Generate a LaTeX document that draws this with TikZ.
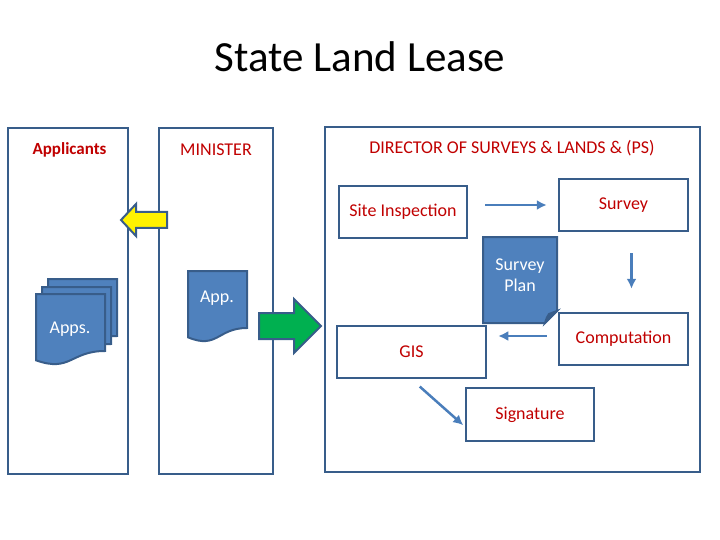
\documentclass[tikz,border=0pt]{standalone}
\usepackage{fontspec}
\setmainfont{Carlito}
\usepackage{tikz}
\usetikzlibrary{calc,arrows.meta}
\definecolor{LineBlue}{RGB}{56,93,138}
\definecolor{DocBlue}{RGB}{79,129,189}
\definecolor{ArrowBlue}{RGB}{74,126,187}
\definecolor{LabelRed}{RGB}{192,0,0}
\definecolor{GoGreen}{RGB}{0,176,80}

\begin{document}
\begin{tikzpicture}[x=1pt,y=-1pt,
  lane/.style={draw=LineBlue, line width=2.5pt},
  stepbox/.style={draw=LineBlue, line width=2.5pt, text=LabelRed, font=\fontsize{18}{21}\selectfont},
  redlabel/.style={text=LabelRed, font=\fontsize{18}{21}\selectfont},
  doc/.style={draw=LineBlue, line width=2pt, fill=DocBlue},
  doctext/.style={text=white, font=\fontsize{18}{21}\selectfont, align=center},
  flow/.style={draw=ArrowBlue, line width=2.5pt, -{Latex[length=10pt,width=10pt]}},
  blockarrow/.style={draw=LineBlue, line width=2pt}]

  \useasboundingbox (0,0) rectangle (720,540);

  \node[font=\fontsize{43}{50}\selectfont] (title) at (360,57) {State Land Lease};

  % lanes
  \node[lane, minimum width=120, minimum height=346] (applicants) at (68,301) {};
  \node[lane, minimum width=114, minimum height=346] (minister) at (216,301) {};
  \node[lane, minimum width=375, minimum height=345] (director) at (512.5,299.5) {};
  \node[redlabel, font=\fontsize{17}{20}\selectfont\bfseries] (applab) at (69.5,150) {Applicants};
  \node[redlabel] (minlab) at (216,150) {MINISTER};
  \node[redlabel] (dirlab) at (512,148) {DIRECTOR OF SURVEYS \& LANDS \& (PS)};

  % steps
  \node[stepbox, minimum width=128, minimum height=52] (site) at (403,212) {Site Inspection};
  \node[stepbox, minimum width=129, minimum height=52] (survey) at (623.5,205) {Survey};
  \node[stepbox, minimum width=129, minimum height=52] (comp) at (623.5,339) {Computation};
  \node[stepbox, minimum width=149, minimum height=52] (gis) at (411.5,352) {GIS};
  \node[stepbox, minimum width=128, minimum height=53] (sig) at (530,414.5) {Signature};

  \draw[flow, shorten <=17pt, shorten >=11pt] (site.east |- survey.west) -- (survey.west);
  \draw[flow, shorten <=21pt, shorten >=23pt] ([xshift=8pt]survey.south) -- ([xshift=8pt]comp.north);
  \draw[flow, shorten <=11pt, shorten >=11pt] ([yshift=3pt]comp.west) -- ([yshift=3pt]comp.west -| gis.east);
  \draw[flow, shorten <=11pt, shorten >=2pt] (gis.south) -- ([yshift=-12pt]sig.west);

  % applications
  \foreach \dx/\dy in {12/-15,6/-7,0/0}
    \draw[doc, shift={(\dx,\dy)}] (36,294) -- (105,294) -- (105,351)
      .. controls (70.5,351) and (70.5,372.6) .. (36,360.3) -- cycle;
  \node[doctext] (apps) at (70,329) {Apps.};

  \draw[doc] (188,271) -- (247,271) -- (247,328)
    .. controls (217.5,328) and (217.5,349.6) .. (188,337.3) -- cycle;
  \node[doctext] (app) at (217,298) {App.};

  \draw[doc] (483,237) -- (557,237) -- (557,311) -- (545,323) -- (483,323) -- cycle;
  \draw[doc, fill=LineBlue] (557,311) -- (545,323) .. controls (547,317) .. (549,314) -- cycle;
  \node[doctext] (plan) at (520,275) {Survey\\Plan};

  % block arrows
  \draw[blockarrow, fill=yellow] (167,212) -- (136,212) -- (136,204) -- (121,220)
    -- (136,236) -- (136,228) -- (167,228) -- cycle;
  \draw[blockarrow, fill=GoGreen] (259,313) -- (294,313) -- (294,299) -- (321,326)
    -- (294,353) -- (294,339) -- (259,339) -- cycle;

\end{tikzpicture}
\end{document}
